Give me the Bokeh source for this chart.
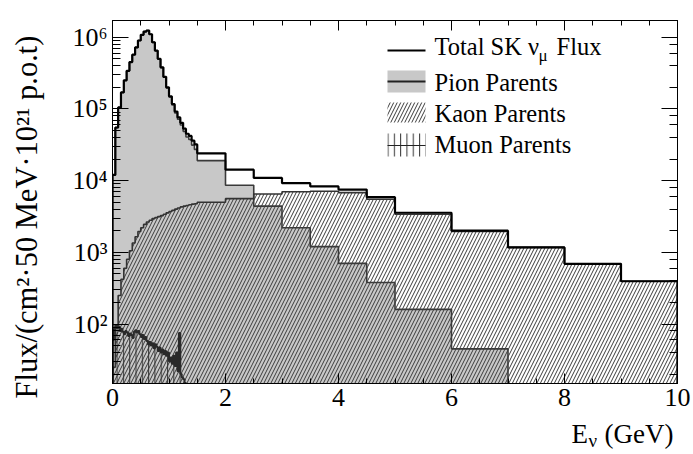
import numpy as np
from bokeh.plotting import figure
from bokeh.layouts import column, row
from bokeh.core.properties import value
from bokeh.models import (Range1d, LinearAxis, LogAxis, Label, BoxAnnotation,
                          CustomJSTickFormatter, SingleIntervalTicker, LogTicker)
from bokeh.embed import file_html
from bokeh.resources import INLINE

# ---------------------------------------------------------------------------
# SK nu_mu flux per parent particle (per cm^2, per 50 MeV, per 1e21 p.o.t)
# ---------------------------------------------------------------------------
edges = [0.00, 0.05, 0.10, 0.15, 0.20, 0.25, 0.30, 0.35, 0.40, 0.45,
         0.50, 0.55, 0.60, 0.65, 0.70, 0.75, 0.80, 0.85, 0.90, 0.95,
         1.00, 1.05, 1.10, 1.15, 1.20, 1.25, 1.30, 1.35, 1.40, 1.45,
         1.50, 2.00, 2.50, 3.00, 3.50, 4.00, 4.50, 5.00, 6.00, 7.00,
         8.00, 9.00, 10.00]

total = [1.2e4, 5.5e4, 1.05e5, 1.7e5, 2.5e5, 3.4e5, 4.5e5, 5.7e5, 7.2e5, 9.0e5,
         1.08e6, 1.2e6, 1.24e6, 1.1e6, 8.5e5, 6.5e5, 5.0e5, 3.8e5, 2.8e5, 2.0e5,
         1.5e5, 1.17e5, 9.2e4, 7.6e4, 6.4e4, 5.3e4, 4.5e4, 4.2e4, 3.6e4, 3.2e4,
         2.4e4, 1.42e4, 1.09e4, 9.2e3, 8.3e3, 7.5e3, 5.88e3, 3.56e3, 2.0e3, 1.17e3,
         690, 395]

pion = [11900, 54800, 104700, 169500, 249400, 339100, 448900, 568600, 718300, 898000,
        1077700, 1197500, 1237300, 1097200, 847000, 646900, 496800, 376700, 276600, 196400,
        146300, 113100, 87900, 71800, 59700, 48600, 40500, 37400, 31300, 27250,
        19000, 8600, 4400, 2200, 1200, 700, 380, 160, 45]

kaon = [25, 95, 250, 420, 600, 800, 1050, 1350, 1650, 1950,
        2200, 2450, 2650, 2800, 2950, 3050, 3150, 3250, 3400, 3550,
        3700, 3850, 4000, 4150, 4300, 4400, 4500, 4600, 4700, 4750,
        5000, 5600, 6500, 7000, 7100, 6800, 5500, 3400, 1950, 1170,
        690, 395]

muon_edges = np.linspace(0.0, 1.3, 53)
muon = [60, 85, 95, 88, 92, 80, 86, 78, 72, 80, 76, 68, 74, 70, 64, 78, 82, 76,
        80, 72, 66, 70, 62, 66, 58, 52, 56, 50, 54, 46, 52, 48, 42, 47, 40, 44,
        38, 42, 36, 40, 30, 34, 28, 36, 26, 40, 22, 75, 20, 18, 17, 15]

x_ticks_major = 2.0
x_minor_per_major = 4
Y_MIN, Y_MAX = 14.8, 1.71e6
FLOOR = 1.0  # histogram baseline, below the visible range

Y_TITLE = "Flux/(cm\u00b2\u00b750 MeV\u00b710\u00b2\u00b9 p.o.t)"
FONT = "Liberation Serif"
W, H = 693, 454
STRIP_W = 50          # left strip holding the rotated y title
H_TITLE = 42          # bottom strip holding the x title
H_MAIN = H - H_TITLE
Y_TITLE_SIZE = 30.5


def step_outline(bin_edges, vals, floor=FLOOR):
    """Closed step outline of a histogram (ROOT style)."""
    xs, ys = [bin_edges[0]], [floor]
    for i, v in enumerate(vals):
        xs += [bin_edges[i], bin_edges[i + 1]]
        ys += [v, v]
    xs.append(bin_edges[len(vals)])
    ys.append(floor)
    return xs, ys


def blank_strip(w, h):
    f = figure(width=w, height=h, x_range=Range1d(0, w), y_range=Range1d(0, h),
               output_backend="svg", toolbar_location=None,
               x_axis_location=None, y_axis_location=None,
               min_border_left=0, min_border_right=0, min_border_top=0, min_border_bottom=0)
    f.grid.visible = False
    f.outline_line_color = None
    f.background_fill_color = "white"
    f.border_fill_color = "white"
    return f


p = figure(width=W - STRIP_W, height=H_MAIN, y_axis_type="log",
           x_range=Range1d(0, 10), y_range=Range1d(Y_MIN, Y_MAX),
           output_backend="svg", toolbar_location=None,
           min_border_left=112 - STRIP_W, min_border_right=16,
           min_border_top=20, min_border_bottom=29)
p.grid.visible = False
p.background_fill_color = "white"
p.border_fill_color = "white"
p.outline_line_color = "black"
p.outline_line_width = 1

# pion parents: grey filled histogram
px, py = step_outline(edges, pion)
p.patch(px, py, fill_color="#c8c8c8", line_color="#3a3a3a", line_width=1.6)

# kaon parents: diagonal hatch
kx, ky = step_outline(edges, kaon)
p.patch(kx, ky, fill_alpha=0, hatch_pattern="/", hatch_color="#3a3a3a",
        hatch_scale=7, hatch_weight=1, line_color="#333333", line_width=1.6)

# muon parents: vertical hatch
mx, my = step_outline(muon_edges, muon)
p.patch(mx, my, fill_alpha=0, hatch_pattern="|", hatch_color="#333333",
        hatch_scale=6.3, hatch_weight=1, line_color="#2a2a2a", line_width=2)

# total flux
tx, ty = step_outline(edges, total)
p.line(tx, ty, line_color="black", line_width=2.2)

# ---------------- axes ----------------
p.xaxis.ticker = SingleIntervalTicker(interval=x_ticks_major, num_minor_ticks=x_minor_per_major)
sup_code = """
const s = {'0':'\u2070','1':'\u00b9','2':'\u00b2','3':'\u00b3','4':'\u2074',
           '5':'\u2075','6':'\u2076','7':'\u2077','8':'\u2078','9':'\u2079','-':'\u207b'};
const e = Math.round(Math.log10(tick));
return '10' + String(e).split('').map(c => s[c]).join('');
"""
p.yaxis.formatter = CustomJSTickFormatter(code=sup_code)

for ax in p.xaxis:
    ax.major_tick_in = 10
    ax.major_tick_out = 0
    ax.minor_tick_in = 5
    ax.minor_tick_out = 0
    ax.major_label_standoff = 5
for ax in p.yaxis:
    ax.major_tick_in = 16
    ax.major_tick_out = 0
    ax.minor_tick_in = 8
    ax.minor_tick_out = 0
    ax.major_label_standoff = 5
for ax in list(p.xaxis) + list(p.yaxis):
    ax.major_label_text_font = FONT
    ax.major_label_text_font_size = "26px"
    ax.major_label_text_color = "black"
    ax.axis_line_color = "black"
    ax.major_tick_line_color = "black"
    ax.minor_tick_line_color = "black"

# tick marks on the top and right edges of the frame (no labels there)
top_axis = LinearAxis(ticker=SingleIntervalTicker(interval=x_ticks_major, num_minor_ticks=x_minor_per_major),
                      major_tick_in=10, major_tick_out=0, minor_tick_in=5, minor_tick_out=0,
                      major_label_text_font_size="2px", major_label_text_color=None,
                      major_label_standoff=0)
p.add_layout(top_axis, "above")
right_axis = LogAxis(ticker=LogTicker(),
                     major_tick_in=16, major_tick_out=0, minor_tick_in=8, minor_tick_out=0,
                     major_label_text_font_size="2px", major_label_text_color=None,
                     major_label_standoff=0)
p.add_layout(right_axis, "right")


def add_text(text, x, y, size, align="left", baseline="middle"):
    p.add_layout(Label(x=x, y=y, x_units="screen", y_units="screen", text=text,
                       text_font=FONT, text_font_size=size, text_color="black",
                       text_align=align, text_baseline=baseline))


# ---------------- legend ----------------
LX0, LX1 = 275, 313


def box(bottom, top, **kw):
    p.add_layout(BoxAnnotation(left=LX0, right=LX1, bottom=bottom, top=top,
                               left_units="screen", right_units="screen",
                               bottom_units="screen", top_units="screen", **kw))


box(332, 334, fill_color="black", fill_alpha=1, line_alpha=0)
add_text("Total SK \u03bd", 322, 337, "24.5px")
add_text("\u03bc", 426, 328, "17px")
add_text("Flux", 444, 337, "24.5px")

box(291, 313, fill_color="#c8c8c8", fill_alpha=1, line_alpha=0)
box(301, 303, fill_color="#222222", fill_alpha=1, line_alpha=0)
add_text("Pion Parents", 322, 301, "24.5px")

box(261, 281, fill_alpha=0, line_alpha=0, hatch_pattern="/",
    hatch_color="#3a3a3a", hatch_scale=7, hatch_weight=1)
add_text("Kaon Parents", 322, 270, "24.5px")

box(227, 250, fill_alpha=0, line_alpha=0, hatch_pattern="|",
    hatch_color="#333333", hatch_scale=6.3, hatch_weight=1)
box(237.5, 238.5, fill_color="#222222", fill_alpha=1, line_alpha=0)
add_text("Muon Parents", 322, 239, "24.5px")

# ---------------- y title strip (rotated, reads bottom to top) ----------------
# anchored at the top edge of the text box; the glyph body lies to the right
ys = blank_strip(STRIP_W, H_MAIN)
ys.text(x=[37 - 0.89 * Y_TITLE_SIZE], y=[H_MAIN - 398], text=[Y_TITLE], angle=np.pi / 2,
        text_font=value(FONT), text_font_size=f"{Y_TITLE_SIZE}px", text_color="black",
        text_align="left", text_baseline="top")

# ---------------- x title strip (E with subscript nu) ----------------
xs_ = blank_strip(W, H_TITLE)
xs_.text(x=[571], y=[21], text=["E"], text_font=value(FONT), text_font_size="27px",
         text_baseline="middle", text_align="left", text_color="black")
xs_.text(x=[588], y=[14], text=["\u03bd"], text_font=value(FONT), text_font_size="19px",
         text_baseline="middle", text_align="left", text_color="black")
xs_.text(x=[604], y=[21], text=["(GeV)"], text_font=value(FONT), text_font_size="27px",
         text_baseline="middle", text_align="left", text_color="black")

# the title strip sits in its own column so its frame is not aligned to the plot's
layout = column(row(column(ys, spacing=0), p, spacing=0), xs_, spacing=0)
open("out.html", "w").write(file_html(layout, INLINE))
